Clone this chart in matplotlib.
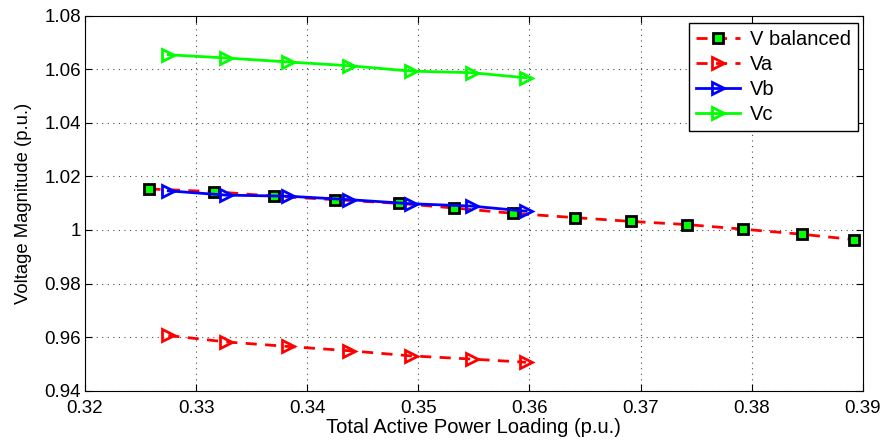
import matplotlib.pyplot as plt

# balanced case
x_bal = [0.3258, 0.3316, 0.3370, 0.3425, 0.3483, 0.3532, 0.3585,
         0.3641, 0.3691, 0.3742, 0.3792, 0.3845, 0.3892]
v_bal = [1.0153, 1.0143, 1.0126, 1.0113, 1.0099, 1.0082, 1.0062,
         1.0046, 1.0032, 1.0020, 1.0003, 0.9984, 0.9964]

# unbalanced phases
x_ph = [0.3275, 0.3327, 0.3383, 0.3438, 0.3493, 0.3548, 0.3597]
v_a = [0.9606, 0.9582, 0.9565, 0.9549, 0.9530, 0.9518, 0.9506]
v_b = [1.0146, 1.0130, 1.0126, 1.0113, 1.0098, 1.0089, 1.0070]
v_c = [1.0654, 1.0642, 1.0627, 1.0613, 1.0593, 1.0587, 1.0568]

xticks = [0.32, 0.33, 0.34, 0.35, 0.36, 0.37, 0.38, 0.39]
yticks = [0.94, 0.96, 0.98, 1.00, 1.02, 1.04, 1.06, 1.08]
ylabels = ['0.94', '0.96', '0.98', '1', '1.02', '1.04', '1.06', '1.08']

plt.rcParams['font.family'] = ['Liberation Sans', 'DejaVu Sans']

fig = plt.figure(figsize=(8.88, 4.47), dpi=100)
ax = fig.add_axes([0.0957, 0.126, 0.876, 0.839])

ax.plot(x_bal, v_bal, '--', color='red', linewidth=2, dashes=(4, 3),
        marker='s', markersize=7, markerfacecolor='#00ff00',
        markeredgecolor='black', markeredgewidth=2, label='V balanced')
ax.plot(x_ph, v_a, '--', color='red', linewidth=2, dashes=(4, 3),
        marker='>', markersize=9, markerfacecolor='none',
        markeredgecolor='red', markeredgewidth=2, label='Va')
ax.plot(x_ph, v_b, '-', color='blue', linewidth=2,
        marker='>', markersize=9, markerfacecolor='none',
        markeredgecolor='blue', markeredgewidth=2, label='Vb')
ax.plot(x_ph, v_c, '-', color='#00ff00', linewidth=2,
        marker='>', markersize=9, markerfacecolor='none',
        markeredgecolor='#00ff00', markeredgewidth=2, label='Vc')

ax.set_xlim(0.32, 0.39)
ax.set_ylim(0.94, 1.08)
ax.set_xticks(xticks)
ax.set_xticklabels([f'{t:.2f}' for t in xticks])
ax.set_yticks(yticks)
ax.set_yticklabels(ylabels)
ax.tick_params(direction='in', top=True, right=True, labelsize=13.5,
               length=5, pad=3)
ax.tick_params(axis='x', pad=6.5)
ax.grid(True, color='black', linestyle=(0, (1, 4)), linewidth=0.8, alpha=0.7)

ax.set_xlabel('Total Active Power Loading (p.u.)', fontsize=14.5, labelpad=1)
ax.set_ylabel('Voltage Magnitude (p.u.)', fontsize=13.3, labelpad=9)

leg = ax.legend(loc='upper right', bbox_to_anchor=(0.994, 0.98),
                fontsize=14.5, fancybox=False,
                framealpha=1, edgecolor='black', handlelength=2.2,
                borderaxespad=0.0, labelspacing=0.3, borderpad=0.35,
                handletextpad=0.5)
leg.get_frame().set_linewidth(1)

fig.savefig('out.png', dpi=100)
